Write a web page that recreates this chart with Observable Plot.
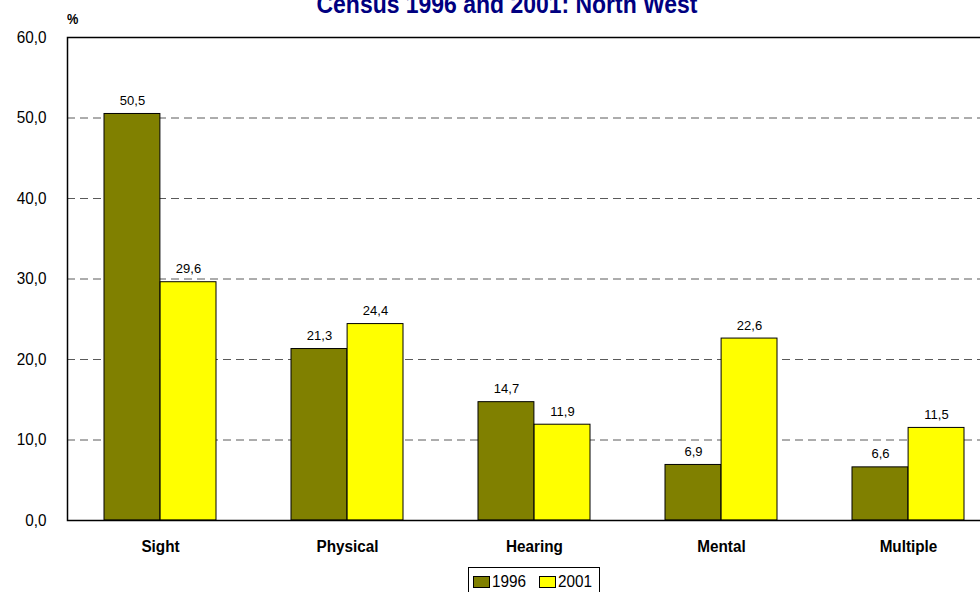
<!DOCTYPE html>
<html>
<head>
<meta charset="utf-8">
<script src="https://cdn.jsdelivr.net/npm/d3@7"></script>
<script src="https://cdn.jsdelivr.net/npm/@observablehq/plot@0.6"></script>
<style>
  html, body { margin: 0; padding: 0; background: white; overflow: hidden; }
  #wrap { position: relative; width: 980px; height: 592px; overflow: hidden; font-family: "Liberation Sans", Arial, sans-serif; }
  #title { position: absolute; left: 0; width: 1014px; top: -8px; text-align: center; font-weight: bold; font-size: 25.5px; line-height: 25.5px; color: #000080; white-space: nowrap; transform: scaleX(0.9); transform-origin: 507px 0; }
  #unit { position: absolute; left: 67px; top: 11px; font-size: 15px; line-height: 15px; font-weight: bold; color: #000; transform: scaleX(0.85); transform-origin: 0 0; }
  #chart { position: absolute; left: 0; top: 0; }
  #legend { position: absolute; left: 468px; top: 567px; width: 130px; height: 40px; border: 1px solid #000; background: #fff; color: #000; }
  .item { position: absolute; top: 5px; display: flex; align-items: center; }
  .sw { width: 15px; height: 10px; border: 1px solid #000; margin-right: 2px; }
  .lt { font-size: 17px; line-height: 18px; display: inline-block; transform: scaleX(0.9); transform-origin: 0 50%; }
</style>
</head>
<body>
<div id="wrap">
  <div id="chart"></div>
  <div id="title">Census 1996 and 2001: North West</div>
  <div id="unit">%</div>
  <div id="legend"></div>
</div>
<script>
const categories = ["Sight", "Physical", "Hearing", "Mental", "Multiple"];
const years = ["1996", "2001"];
const values1996 = [50.5, 21.3, 14.7, 6.9, 6.6];
const values2001 = [29.6, 24.4, 11.9, 22.6, 11.5];
const yTicks = [0, 10, 20, 30, 40, 50, 60];
const gridTicks = [10, 20, 30, 40, 50];
const colors = ["#808000", "#FFFF00"];

const fmt = d => d.toFixed(1).replace(".", ",");
const d96 = categories.map((c, i) => ({category: c, year: "1996", value: values1996[i]}));
const d01 = categories.map((c, i) => ({category: c, year: "2001", value: values2001[i]}));

const half = 56.1;

const chart = Plot.plot({
  width: 980,
  height: 566,
  marginTop: 37,
  marginBottom: 46,
  marginLeft: 67,
  marginRight: 0,
  style: {fontFamily: "'Liberation Sans', Arial, sans-serif", background: "transparent", overflow: "hidden"},
  x: {domain: categories, range: [67, 1002], paddingInner: 0.4, paddingOuter: 0.2, label: null},
  y: {domain: [0, 60], label: null},
  marks: [
    Plot.ruleY(gridTicks, {stroke: "#5a5a5a", strokeDasharray: "8,5", strokeWidth: 1}),
    Plot.barY(d96, {x: "category", y: "value", fill: colors[0], stroke: "#000", strokeWidth: 1, insetRight: half}),
    Plot.barY(d01, {x: "category", y: "value", fill: colors[1], stroke: "#000", strokeWidth: 1, insetLeft: half}),
    Plot.text(d96, {x: "category", y: "value", text: d => fmt(d.value), dx: -28, dy: -9, lineAnchor: "bottom", fontSize: 13, fill: "#000"}),
    Plot.text(d01, {x: "category", y: "value", text: d => fmt(d.value), dx: 28, dy: -9, lineAnchor: "bottom", fontSize: 13, fill: "#000"}),
    Plot.frame({stroke: "#000", strokeWidth: 1.5, insetRight: -40}),
    Plot.axisY({ticks: yTicks, tickFormat: fmt, tickSize: 0, tickPadding: 21, fontSize: 17, label: null}),
    Plot.axisX({tickSize: 0, tickPadding: 19, fontSize: 17, fontWeight: "bold", label: null})
  ]
});
document.getElementById("chart").appendChild(chart);

// condense axis tick labels horizontally, like the reference's narrow type
const sx = 0.9;
chart.querySelectorAll('g[aria-label$="tick label"] text').forEach(t => {
  const tr = t.getAttribute("transform");
  if (tr) {
    t.setAttribute("transform", tr + ` scale(${sx},1)`);
  } else {
    const x = +t.getAttribute("x") || 0, y = +t.getAttribute("y") || 0;
    t.setAttribute("transform", `translate(${x},${y}) scale(${sx},1) translate(${-x},${-y})`);
  }
});

const legend = document.getElementById("legend");
const lefts = [4, 70];
years.forEach((y, i) => {
  const it = document.createElement("div");
  it.className = "item";
  it.style.left = lefts[i] + "px";
  const sw = document.createElement("div");
  sw.className = "sw";
  sw.style.background = colors[i];
  it.appendChild(sw);
  const t = document.createElement("span");
  t.className = "lt";
  t.textContent = y;
  it.appendChild(t);
  legend.appendChild(it);
});
</script>
</body>
</html>
